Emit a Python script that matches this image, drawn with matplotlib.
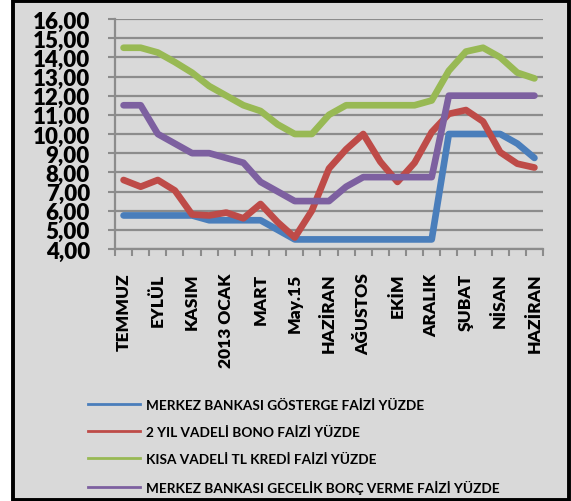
import numpy as np
import matplotlib.pyplot as plt
from matplotlib.patches import Rectangle

plt.rcParams['font.family'] = ['Lato', 'DejaVu Sans']
plt.rcParams['font.weight'] = 'bold'

# 25 aylik kategori, her ikincisi etiketli
tick_labels = ['TEMMUZ', 'EYLÜL', 'KASIM', '2013 OCAK', 'MART', 'May.15', 'HAZİRAN',
               'AĞUSTOS', 'EKİM', 'ARALIK', 'ŞUBAT', 'NİSAN', 'HAZİRAN']

gosterge = [5.75, 5.75, 5.75, 5.75, 5.75, 5.5, 5.5, 5.5, 5.5, 5.0, 4.5, 4.5, 4.5,
            4.5, 4.5, 4.5, 4.5, 4.5, 4.5, 10.0, 10.0, 10.0, 10.0, 9.5, 8.75]
bono = [7.6, 7.25, 7.6, 7.05, 5.8, 5.75, 5.9, 5.6, 6.35, 5.4, 4.6, 6.0, 8.2,
        9.2, 10.0, 8.55, 7.5, 8.5, 10.1, 11.05, 11.25, 10.65, 9.05, 8.45, 8.25]
kredi = [14.5, 14.5, 14.25, 13.75, 13.2, 12.5, 12.0, 11.5, 11.2, 10.5, 10.0, 10.0, 11.0,
         11.5, 11.5, 11.5, 11.5, 11.5, 11.75, 13.3, 14.3, 14.5, 14.0, 13.2, 12.9]
gecelik = [11.5, 11.5, 10.0, 9.5, 9.0, 9.0, 8.75, 8.5, 7.5, 7.0, 6.5, 6.5, 6.5,
           7.25, 7.75, 7.75, 7.75, 7.75, 7.75, 12.0, 12.0, 12.0, 12.0, 12.0, 12.0]

series = [
    ('MERKEZ BANKASI GÖSTERGE FAİZİ YÜZDE', gosterge, '#4A7EBB'),
    ('2 YIL VADELİ BONO FAİZİ YÜZDE', bono, '#BE4B48'),
    ('KISA VADELİ TL KREDİ FAİZİ YÜZDE', kredi, '#98B954'),
    ('MERKEZ BANKASI GECELİK BORÇ VERME FAİZİ YÜZDE', gecelik, '#7D60A0'),
]

bg = '#D9D9D9'
grid = '#8C8C8C'

fig = plt.figure(figsize=(5.71, 5.02), dpi=100, facecolor='white')
# dis cerceve (eksenlerin arkasinda)
frame = Rectangle((13 / 571, 1 / 502), 556 / 571, 499 / 502,
                  transform=fig.transFigure, facecolor=bg,
                  edgecolor='black', linewidth=2.8, zorder=-5)
fig.add_artist(frame)

ax = fig.add_axes([115 / 571, 1 - 250 / 502, 428 / 571, 230 / 502])
ax.set_facecolor(bg)

x = np.arange(len(gosterge))
for name, vals, col in series:
    ax.plot(x, vals, color=col, linewidth=4.8, solid_capstyle='round',
            solid_joinstyle='round', label=name, zorder=3)

ax.set_xlim(-0.5, len(x) - 0.5)
ax.set_ylim(4, 16)
yt = np.arange(4, 17, 1)
ax.set_yticks(yt)
ax.set_yticklabels([f'{v:.2f}'.replace('.', ',') for v in yt], fontsize=16, fontweight='heavy')
ax.yaxis.grid(True, color=grid, linewidth=1.6)
ax.set_axisbelow(True)

# kategori sinirlarinda tikler, etiketler ortada
ax.set_xticks(np.arange(-0.5, len(x), 1))
ax.set_xticklabels([])
ax.set_xticks(np.arange(0, len(x), 2), minor=True)
ax.set_xticklabels(tick_labels, minor=True, rotation=90, fontsize=12.5, fontweight='heavy')
ax.tick_params(axis='x', which='major', length=5, width=1.5, color=grid, direction='out')
ax.tick_params(axis='x', which='minor', length=0, pad=17)
ax.tick_params(axis='y', length=5, width=1.5, color=grid, pad=13)

for s in ['top', 'right']:
    ax.spines[s].set_visible(False)
for s in ['left', 'bottom']:
    ax.spines[s].set_color(grid)
    ax.spines[s].set_linewidth(1.6)

leg_handles = [plt.Line2D([], [], color=c, linewidth=2) for _, _, c in series]
fig.legend(leg_handles, [s[0] for s in series], loc='upper left',
           bbox_to_anchor=(88 / 571, 1 - 400 / 502), frameon=False,
           prop={'size': 9.8, 'weight': 'bold'}, handlelength=3.8,
           handletextpad=0.45, labelspacing=1.1, borderpad=0, borderaxespad=0)

fig.savefig('out.png', dpi=100, facecolor=fig.get_facecolor())
